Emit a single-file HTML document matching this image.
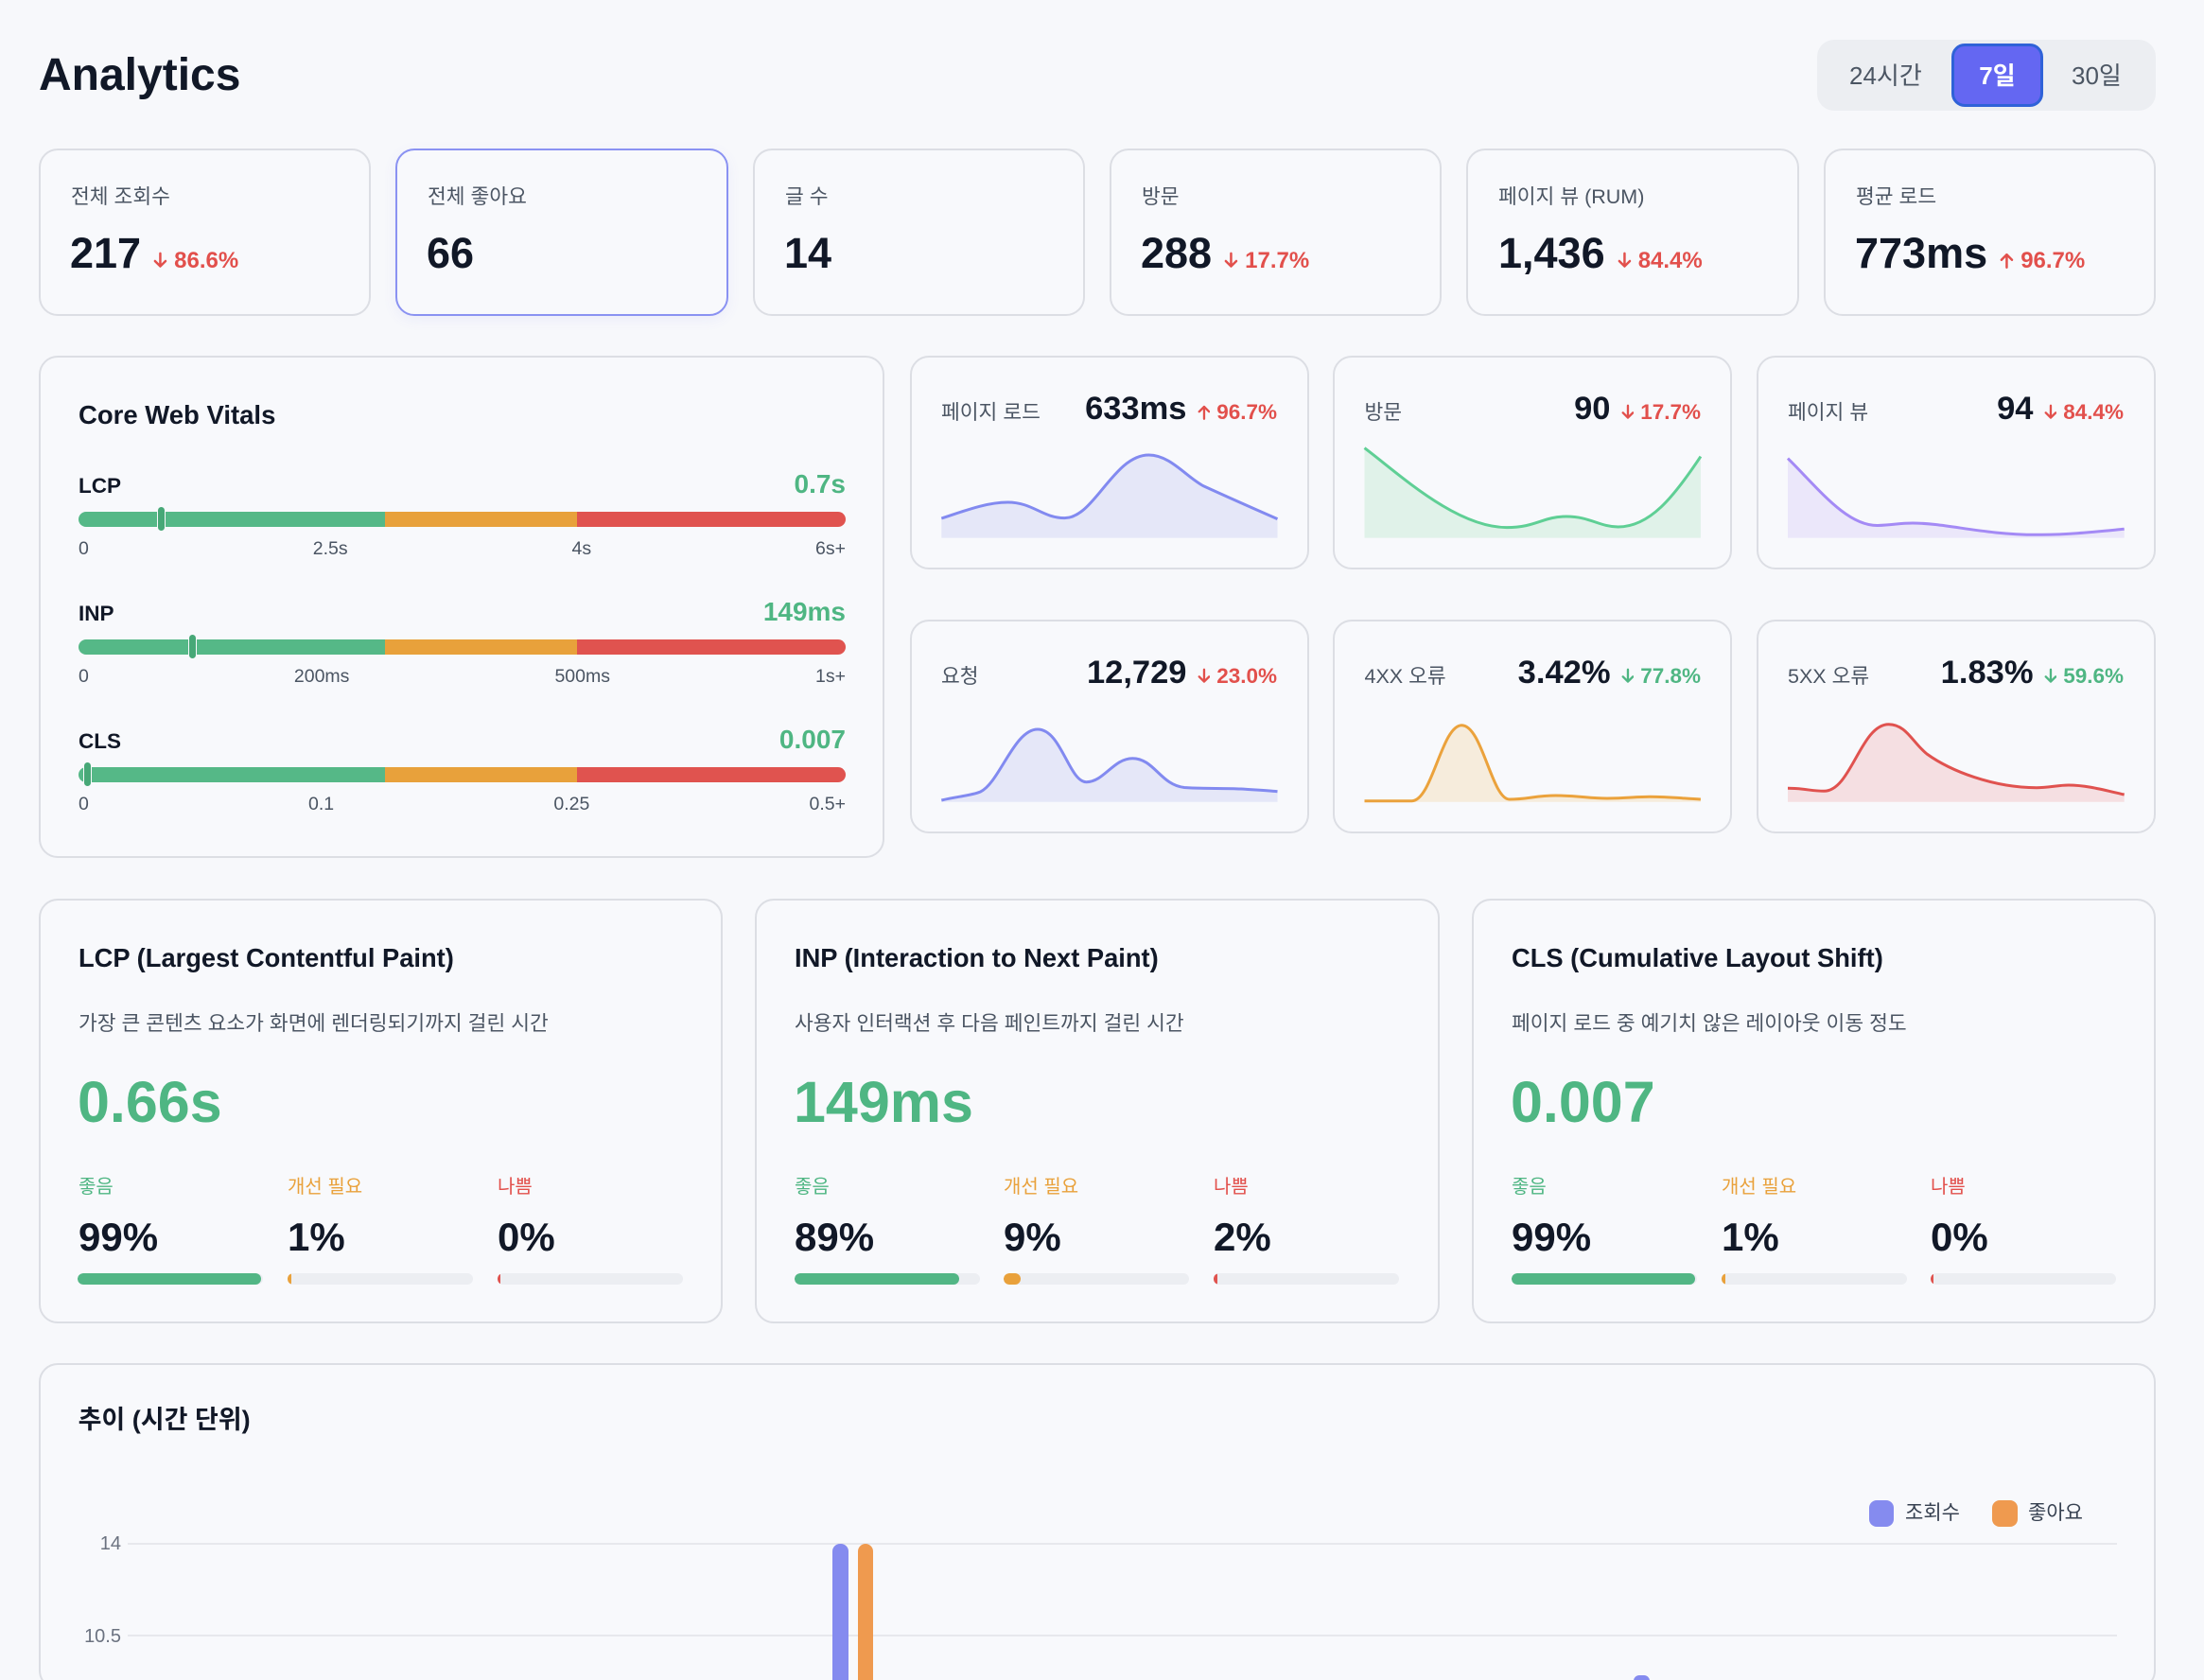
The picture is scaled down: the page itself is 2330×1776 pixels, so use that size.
<!DOCTYPE html>
<html><head><meta charset="utf-8">
<style>
*{box-sizing:border-box;margin:0;padding:0}
html,body{width:2330px;height:1776px;overflow:hidden;background:#f7f8fb}
body{font-family:"Liberation Sans","Noto Sans CJK KR",sans-serif;color:#111827}
#wrap{position:relative;width:2330px;height:1776px;overflow:hidden;background:#f7f8fb}
.abs{position:absolute}
.card{position:absolute;border:2px solid #dcdee4;border-radius:20px;background:#f8f9fc}
.t{position:absolute;line-height:1;white-space:nowrap}
.lab{color:#4b5563;font-size:21.5px}
.row{position:absolute;display:flex;align-items:baseline;line-height:1;white-space:nowrap}
.red{color:#e2504c}
.grn{color:#4fb683}
.org{color:#e9a13b}
.b{font-weight:700}
.d{font-weight:700;display:inline-flex;align-items:baseline}
.d svg{width:0.62em;height:0.78em;margin-right:0.3em;position:relative;top:0.08em}
.bar{position:absolute;height:15.5px;width:811px;left:83px;border-radius:8px;overflow:hidden;display:flex}
.bar i{display:block;height:100%}
.mk{position:absolute;width:9px;height:27px;background:#47a877;border-radius:5px;border:1px solid #f8f9fc}
.ticks{position:absolute;left:83px;width:811px;display:flex;justify-content:space-between;font-size:19.5px;color:#4b5563;line-height:1}
.trk{position:absolute;height:12px;width:196px;background:#eceef2;border-radius:6px;overflow:hidden}
.trk i{display:block;height:100%;border-radius:6px}
</style></head><body><div id="wrap">

<!-- Header -->
<div class="t b" style="left:41px;top:56px;font-size:48px;">Analytics</div>
<div class="abs" style="left:1921px;top:42px;width:358px;height:75px;background:#eceef2;border-radius:18px"></div>
<div class="abs" style="left:2063px;top:46px;width:97px;height:67px;background:#6467f2;border:3px solid #2f62d8;border-radius:14px"></div>
<div class="t" style="left:1955px;top:67px;font-size:26px;color:#4b5563">24시간</div>
<div class="t b" style="left:2063px;width:97px;text-align:center;top:67px;font-size:26px;color:#fff">7일</div>
<div class="t" style="left:2190px;top:67px;font-size:26px;color:#4b5563">30일</div>

<!-- KPI cards -->
<div class="card" style="left:41px;top:157px;width:351px;height:177px"></div>
<div class="card" style="left:418px;top:157px;width:352px;height:177px;border-color:#8a92f2;box-shadow:0 4px 14px rgba(99,102,241,0.08)"></div>
<div class="card" style="left:796px;top:157px;width:351px;height:177px"></div>
<div class="card" style="left:1173px;top:157px;width:351px;height:177px"></div>
<div class="card" style="left:1550px;top:157px;width:352px;height:177px"></div>
<div class="card" style="left:1928px;top:157px;width:351px;height:177px"></div>

<div class="t lab" style="left:75px;top:198px">전체 조회수</div>
<div class="t lab" style="left:452px;top:198px">전체 좋아요</div>
<div class="t lab" style="left:830px;top:198px">글 수</div>
<div class="t lab" style="left:1207px;top:198px">방문</div>
<div class="t lab" style="left:1584px;top:198px">페이지 뷰 (RUM)</div>
<div class="t lab" style="left:1962px;top:198px">평균 로드</div>

<div class="row" style="left:74px;top:245px"><span class="b" style="font-size:45px">217</span><span class="d red" style="font-size:24px;margin-left:13px"><svg viewBox="0 0 12 14"><path d="M6 1v11M1.5 7.5L6 12l4.5-4.5" stroke="currentColor" stroke-width="2" fill="none" stroke-linecap="round" stroke-linejoin="round"/></svg>86.6%</span></div>
<div class="row" style="left:451px;top:245px"><span class="b" style="font-size:45px">66</span></div>
<div class="row" style="left:829px;top:245px"><span class="b" style="font-size:45px">14</span></div>
<div class="row" style="left:1206px;top:245px"><span class="b" style="font-size:45px">288</span><span class="d red" style="font-size:24px;margin-left:13px"><svg viewBox="0 0 12 14"><path d="M6 1v11M1.5 7.5L6 12l4.5-4.5" stroke="currentColor" stroke-width="2" fill="none" stroke-linecap="round" stroke-linejoin="round"/></svg>17.7%</span></div>
<div class="row" style="left:1584px;top:245px"><span class="b" style="font-size:45px">1,436</span><span class="d red" style="font-size:24px;margin-left:13px"><svg viewBox="0 0 12 14"><path d="M6 1v11M1.5 7.5L6 12l4.5-4.5" stroke="currentColor" stroke-width="2" fill="none" stroke-linecap="round" stroke-linejoin="round"/></svg>84.4%</span></div>
<div class="row" style="left:1961px;top:245px"><span class="b" style="font-size:45px">773ms</span><span class="d red" style="font-size:24px;margin-left:13px"><svg viewBox="0 0 12 14"><path d="M6 13V2M1.5 6.5L6 2l4.5 4.5" stroke="currentColor" stroke-width="2" fill="none" stroke-linecap="round" stroke-linejoin="round"/></svg>96.7%</span></div>

<!-- Core Web Vitals -->
<div class="card" style="left:41px;top:376px;width:894px;height:531px"></div>
<div class="t b" style="left:83px;top:424.5px;font-size:27.5px">Core Web Vitals</div>

<div class="t b" style="left:83px;top:502.5px;font-size:22.5px">LCP</div>
<div class="t b grn" style="left:600px;width:294px;text-align:right;top:498px;font-size:28px">0.7s</div>
<div class="bar" style="top:541px"><i style="width:40%;background:#55b887"></i><i style="width:25%;background:#e8a13b"></i><i style="width:35%;background:#e0534f"></i></div>
<div class="mk" style="left:166px;top:535px"></div>
<div class="ticks" style="top:571px"><span>0</span><span>2.5s</span><span>4s</span><span>6s+</span></div>

<div class="t b" style="left:83px;top:637.5px;font-size:22.5px">INP</div>
<div class="t b grn" style="left:600px;width:294px;text-align:right;top:633px;font-size:28px">149ms</div>
<div class="bar" style="top:676px"><i style="width:40%;background:#55b887"></i><i style="width:25%;background:#e8a13b"></i><i style="width:35%;background:#e0534f"></i></div>
<div class="mk" style="left:198.5px;top:670px"></div>
<div class="ticks" style="top:706px"><span>0</span><span>200ms</span><span>500ms</span><span>1s+</span></div>

<div class="t b" style="left:83px;top:772.5px;font-size:22.5px">CLS</div>
<div class="t b grn" style="left:600px;width:294px;text-align:right;top:768px;font-size:28px">0.007</div>
<div class="bar" style="top:811px"><i style="width:40%;background:#55b887"></i><i style="width:25%;background:#e8a13b"></i><i style="width:35%;background:#e0534f"></i></div>
<div class="mk" style="left:88px;top:805px"></div>
<div class="ticks" style="top:841px"><span>0</span><span>0.1</span><span>0.25</span><span>0.5+</span></div>

<!-- Spark cards row 1 -->
<div class="card" style="left:961.5px;top:375.7px;width:422px;height:226px"></div>
<div class="card" style="left:1409px;top:375.7px;width:422px;height:226px"></div>
<div class="card" style="left:1857px;top:375.7px;width:422px;height:226px"></div>
<!-- row 2 -->
<div class="card" style="left:961.5px;top:655px;width:422px;height:226px"></div>
<div class="card" style="left:1409px;top:655px;width:422px;height:226px"></div>
<div class="card" style="left:1857px;top:655px;width:422px;height:226px"></div>

<!-- spark labels -->
<div class="t lab" style="left:995px;top:425.5px">페이지 로드</div>
<div class="t lab" style="left:1442.5px;top:425.5px">방문</div>
<div class="t lab" style="left:1890px;top:425.5px">페이지 뷰</div>
<div class="t lab" style="left:995px;top:705px">요청</div>
<div class="t lab" style="left:1442.5px;top:705px">4XX 오류</div>
<div class="t lab" style="left:1890px;top:705px">5XX 오류</div>

<!-- spark values -->
<div class="row" style="left:1100px;width:250px;justify-content:flex-end;top:414.5px"><span class="b" style="font-size:34.5px">633ms</span><span class="d red" style="font-size:22.5px;margin-left:11px"><svg viewBox="0 0 12 14"><path d="M6 13V2M1.5 6.5L6 2l4.5 4.5" stroke="currentColor" stroke-width="2" fill="none" stroke-linecap="round" stroke-linejoin="round"/></svg>96.7%</span></div>
<div class="row" style="left:1548px;width:250px;justify-content:flex-end;top:414.5px"><span class="b" style="font-size:34.5px">90</span><span class="d red" style="font-size:22.5px;margin-left:11px"><svg viewBox="0 0 12 14"><path d="M6 1v11M1.5 7.5L6 12l4.5-4.5" stroke="currentColor" stroke-width="2" fill="none" stroke-linecap="round" stroke-linejoin="round"/></svg>17.7%</span></div>
<div class="row" style="left:1995px;width:250px;justify-content:flex-end;top:414.5px"><span class="b" style="font-size:34.5px">94</span><span class="d red" style="font-size:22.5px;margin-left:11px"><svg viewBox="0 0 12 14"><path d="M6 1v11M1.5 7.5L6 12l4.5-4.5" stroke="currentColor" stroke-width="2" fill="none" stroke-linecap="round" stroke-linejoin="round"/></svg>84.4%</span></div>
<div class="row" style="left:1100px;width:250px;justify-content:flex-end;top:694px"><span class="b" style="font-size:34.5px">12,729</span><span class="d red" style="font-size:22.5px;margin-left:11px"><svg viewBox="0 0 12 14"><path d="M6 1v11M1.5 7.5L6 12l4.5-4.5" stroke="currentColor" stroke-width="2" fill="none" stroke-linecap="round" stroke-linejoin="round"/></svg>23.0%</span></div>
<div class="row" style="left:1548px;width:250px;justify-content:flex-end;top:694px"><span class="b" style="font-size:34.5px">3.42%</span><span class="d grn" style="font-size:22.5px;margin-left:11px"><svg viewBox="0 0 12 14"><path d="M6 1v11M1.5 7.5L6 12l4.5-4.5" stroke="currentColor" stroke-width="2" fill="none" stroke-linecap="round" stroke-linejoin="round"/></svg>77.8%</span></div>
<div class="row" style="left:1995px;width:250px;justify-content:flex-end;top:694px"><span class="b" style="font-size:34.5px">1.83%</span><span class="d grn" style="font-size:22.5px;margin-left:11px"><svg viewBox="0 0 12 14"><path d="M6 1v11M1.5 7.5L6 12l4.5-4.5" stroke="currentColor" stroke-width="2" fill="none" stroke-linecap="round" stroke-linejoin="round"/></svg>59.6%</span></div>

<!-- spark charts -->
<svg class="abs" style="left:961.5px;top:375.7px" width="422" height="226" viewBox="0 0 422 226">
<path d="M33.3,172 C55,165 80,155 103.3,155 C130,155 140,171.6 163.5,171.6 C195,171.6 215,105 252.5,105 C275,105 292,128 310,137.6 C336,149.5 362,161 388.5,172.6 L388.5,192.6 L33.3,192.6 Z" fill="#e5e7f8"/>
<path d="M33.3,172 C55,165 80,155 103.3,155 C130,155 140,171.6 163.5,171.6 C195,171.6 215,105 252.5,105 C275,105 292,128 310,137.6 C336,149.5 362,161 388.5,172.6" fill="none" stroke="#828af0" stroke-width="3"/>
</svg>
<svg class="abs" style="left:1409px;top:375.7px" width="422" height="226" viewBox="0 0 422 226">
<path d="M33.5,97.6 C70,125 130,181.6 184,181.6 C215,181.6 222,170 247,170 C272,170 282,181 301.6,181 C335,181 360,150 388.9,106.6 L388.9,192.6 L33.5,192.6 Z" fill="#e0f2e9"/>
<path d="M33.5,97.6 C70,125 130,181.6 184,181.6 C215,181.6 222,170 247,170 C272,170 282,181 301.6,181 C335,181 360,150 388.9,106.6" fill="none" stroke="#5fcf95" stroke-width="3"/>
</svg>
<svg class="abs" style="left:1857px;top:375.7px" width="422" height="226" viewBox="0 0 422 226">
<path d="M33,108.6 C65,140 95,180 128,179.5 C145,179 150,177 165,177 C200,177 240,189.3 296,189.3 C330,189.3 360,186 388.7,183.3 L388.7,192.6 L33,192.6 Z" fill="#ebe7fa"/>
<path d="M33,108.6 C65,140 95,180 128,179.5 C145,179 150,177 165,177 C200,177 240,189.3 296,189.3 C330,189.3 360,186 388.7,183.3" fill="none" stroke="#a48af5" stroke-width="3"/>
</svg>
<svg class="abs" style="left:961.5px;top:655px" width="422" height="226" viewBox="0 0 422 226">
<path d="M33.3,191 C50,187 65,186 74.5,182 C95,172 110,116 135,116 C160,116 168,171.7 186.5,171.7 C205,171.7 215,146.7 235.3,146.7 C258,146.7 265,175 290,177.5 C310,179 330,178 350,179 C365,180 378,180.5 388.5,181.7 L388.5,192.7 L33.3,192.7 Z" fill="#e5e7f8"/>
<path d="M33.3,191 C50,187 65,186 74.5,182 C95,172 110,116 135,116 C160,116 168,171.7 186.5,171.7 C205,171.7 215,146.7 235.3,146.7 C258,146.7 265,175 290,177.5 C310,179 330,178 350,179 C365,180 378,180.5 388.5,181.7" fill="none" stroke="#828af0" stroke-width="3"/>
</svg>
<svg class="abs" style="left:1409px;top:655px" width="422" height="226" viewBox="0 0 422 226">
<path d="M33.5,191.7 L83.5,191.7 C105,191.7 115,111.7 136.3,111.7 C158,111.7 168,190 186.8,190 C205,190 215,186 235.6,186 C260,186 270,189 290,189 C310,189 320,187.3 335,187.3 C355,187.3 370,189 388.9,190 L388.9,192.7 L33.5,192.7 Z" fill="#f6ecdc"/>
<path d="M33.5,191.7 L83.5,191.7 C105,191.7 115,111.7 136.3,111.7 C158,111.7 168,190 186.8,190 C205,190 215,186 235.6,186 C260,186 270,189 290,189 C310,189 320,187.3 335,187.3 C355,187.3 370,189 388.9,190" fill="none" stroke="#eba23c" stroke-width="3"/>
</svg>
<svg class="abs" style="left:1857px;top:655px" width="422" height="226" viewBox="0 0 422 226">
<path d="M33,178.3 C50,178.3 58,181.3 71.3,181.3 C100,181.3 110,110.7 139.7,110.7 C158,110.7 165,130 180,142 C205,160 250,177.7 296,177.7 C310,177.7 318,175 329.7,175 C350,175 370,181 388.7,185 L388.7,192.7 L33,192.7 Z" fill="#f5dfe2"/>
<path d="M33,178.3 C50,178.3 58,181.3 71.3,181.3 C100,181.3 110,110.7 139.7,110.7 C158,110.7 165,130 180,142 C205,160 250,177.7 296,177.7 C310,177.7 318,175 329.7,175 C350,175 370,181 388.7,185" fill="none" stroke="#e0524f" stroke-width="3"/>
</svg>

<!-- Detail cards -->
<div class="card" style="left:41px;top:950px;width:723px;height:449px"></div>
<div class="card" style="left:798px;top:950px;width:724px;height:449px"></div>
<div class="card" style="left:1556px;top:950px;width:723px;height:449px"></div>

<div class="t b" style="left:83px;top:998.5px;font-size:27.3px">LCP (Largest Contentful Paint)</div>
<div class="t" style="left:83px;top:1072px;font-size:21.5px;color:#4b5563">가장 큰 콘텐츠 요소가 화면에 렌더링되기까지 걸린 시간</div>
<div class="t b grn" style="left:82px;top:1135px;font-size:61px">0.66s</div>
<div class="t grn" style="left:83px;top:1244.5px;font-size:20px">좋음</div>
<div class="t org" style="left:304px;top:1244.5px;font-size:20px">개선 필요</div>
<div class="t red" style="left:526px;top:1244.5px;font-size:20px">나쁨</div>
<div class="t b" style="left:83px;top:1286.5px;font-size:42px">99%</div>
<div class="t b" style="left:304px;top:1286.5px;font-size:42px">1%</div>
<div class="t b" style="left:526px;top:1286.5px;font-size:42px">0%</div>
<div class="trk" style="left:82px;top:1346px"><i style="width:99%;background:#52b685"></i></div>
<div class="trk" style="left:304px;top:1346px"><i style="width:4px;background:#e9a13b"></i></div>
<div class="trk" style="left:526px;top:1346px"><i style="width:3px;background:#e0534f"></i></div>

<div class="t b" style="left:840px;top:998.5px;font-size:27.3px">INP (Interaction to Next Paint)</div>
<div class="t" style="left:840px;top:1072px;font-size:21.5px;color:#4b5563">사용자 인터랙션 후 다음 페인트까지 걸린 시간</div>
<div class="t b grn" style="left:839px;top:1135px;font-size:61px">149ms</div>
<div class="t grn" style="left:840px;top:1244.5px;font-size:20px">좋음</div>
<div class="t org" style="left:1061px;top:1244.5px;font-size:20px">개선 필요</div>
<div class="t red" style="left:1283px;top:1244.5px;font-size:20px">나쁨</div>
<div class="t b" style="left:840px;top:1286.5px;font-size:42px">89%</div>
<div class="t b" style="left:1061px;top:1286.5px;font-size:42px">9%</div>
<div class="t b" style="left:1283px;top:1286.5px;font-size:42px">2%</div>
<div class="trk" style="left:840px;top:1346px"><i style="width:89%;background:#52b685"></i></div>
<div class="trk" style="left:1061px;top:1346px"><i style="width:9%;background:#e9a13b"></i></div>
<div class="trk" style="left:1283px;top:1346px"><i style="width:4px;background:#e0534f"></i></div>

<div class="t b" style="left:1598px;top:998.5px;font-size:27.3px">CLS (Cumulative Layout Shift)</div>
<div class="t" style="left:1598px;top:1072px;font-size:21.5px;color:#4b5563">페이지 로드 중 예기치 않은 레이아웃 이동 정도</div>
<div class="t b grn" style="left:1597px;top:1135px;font-size:61px">0.007</div>
<div class="t grn" style="left:1598px;top:1244.5px;font-size:20px">좋음</div>
<div class="t org" style="left:1820px;top:1244.5px;font-size:20px">개선 필요</div>
<div class="t red" style="left:2041px;top:1244.5px;font-size:20px">나쁨</div>
<div class="t b" style="left:1598px;top:1286.5px;font-size:42px">99%</div>
<div class="t b" style="left:1820px;top:1286.5px;font-size:42px">1%</div>
<div class="t b" style="left:2041px;top:1286.5px;font-size:42px">0%</div>
<div class="trk" style="left:1598px;top:1346px"><i style="width:99%;background:#52b685"></i></div>
<div class="trk" style="left:1820px;top:1346px"><i style="width:4px;background:#e9a13b"></i></div>
<div class="trk" style="left:2041px;top:1346px"><i style="width:3px;background:#e0534f"></i></div>

<!-- Trend chart -->
<div class="card" style="left:40.5px;top:1440.7px;width:2238px;height:345px"></div>
<div class="t b" style="left:82.6px;top:1488px;font-size:27px">추이 (시간 단위)</div>
<div class="abs" style="left:1976px;top:1586px;width:26px;height:28px;border-radius:8px;background:#858bef"></div>
<div class="t" style="left:2014px;top:1589px;font-size:21px;color:#374151">조회수</div>
<div class="abs" style="left:2106px;top:1586px;width:27px;height:28px;border-radius:8px;background:#ef9a4f"></div>
<div class="t" style="left:2144px;top:1589px;font-size:21px;color:#374151">좋아요</div>

<div class="t" style="left:50px;width:78px;text-align:right;top:1622px;font-size:20px;color:#6b7280">14</div>
<div class="t" style="left:50px;width:78px;text-align:right;top:1719.5px;font-size:20px;color:#6b7280">10.5</div>
<div class="abs" style="left:135px;top:1630.7px;width:2103px;height:2px;background:#e7e8ed"></div>
<div class="abs" style="left:135px;top:1728px;width:2103px;height:2px;background:#e7e8ed"></div>

<div class="abs" style="left:880px;top:1631.7px;width:16.5px;height:145px;border-radius:8px 8px 0 0;background:#858bef"></div>
<div class="abs" style="left:906.5px;top:1631.7px;width:16px;height:145px;border-radius:8px 8px 0 0;background:#ef9a4f"></div>
<div class="abs" style="left:1727px;top:1771px;width:17px;height:6px;border-radius:8px 8px 0 0;background:#858bef"></div>

</div></body></html>
